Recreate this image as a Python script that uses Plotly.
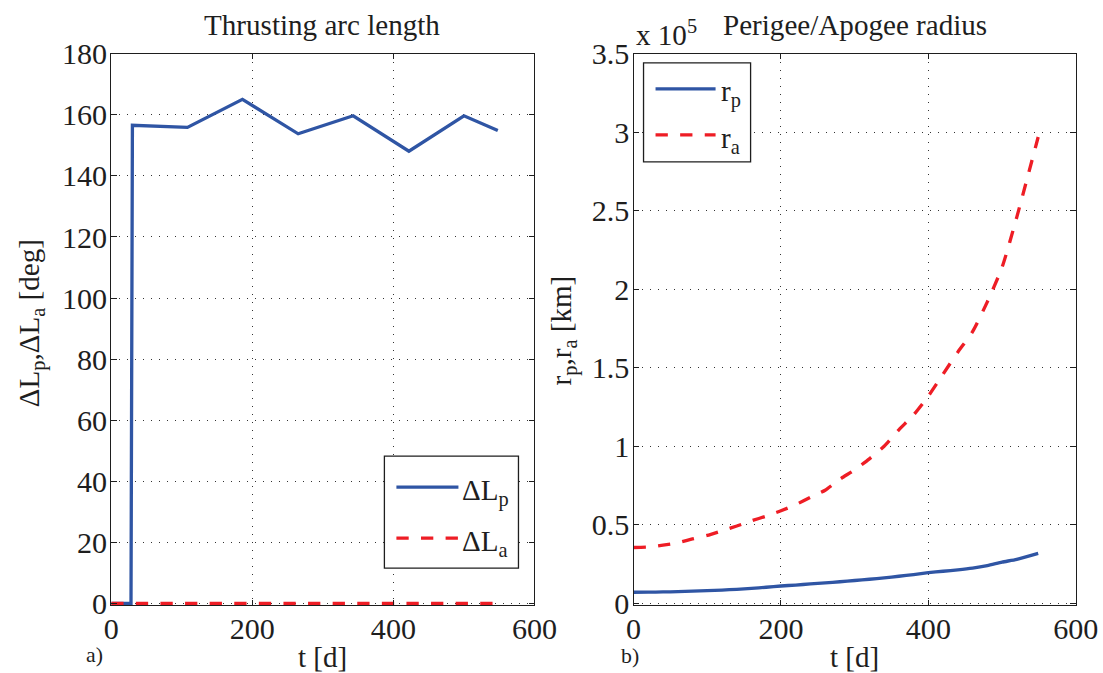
import plotly.graph_objects as go

# ---------------- data ----------------
t_arc = [0, 28, 30, 108, 186, 265, 343, 422, 500, 548]          # days
dL_p = [0, 0, 156.6, 155.9, 165.1, 153.8, 159.7, 148.1, 159.7, 154.9]  # deg
dL_a = [0, 0, 0, 0, 0, 0, 0, 0, 0, 0]                              # deg

t_rad = [0, 20, 40, 60, 80, 100, 120, 140, 160, 180, 200, 220, 240, 260, 280,
         300, 320, 340, 360, 380, 400, 420, 440, 460, 480, 500, 520, 549]  # days
r_p = [7000, 7050, 7200, 7400, 7700, 8000, 8400, 8900, 9500, 10200, 11000, 11600,
       12300, 13000, 13700, 14500, 15300, 16200, 17200, 18300, 19500, 20400, 21300,
       22400, 24000, 26200, 28000, 31800]                              # km
r_a = [35500, 35800, 37000, 38500, 41000, 43200, 46200, 49200, 52500, 55500, 58900,
       62800, 67500, 72000, 79000, 85000, 92000, 100000, 110500, 120000, 132000,
       146000, 160000, 173000, 192000, 214000, 246000, 297000]         # km

SCALE = 1e5
x_ticks = [0, 200, 400, 600]
yl_ticks = [0, 20, 40, 60, 80, 100, 120, 140, 160, 180]
yr_ticks = [0, 0.5, 1, 1.5, 2, 2.5, 3, 3.5]
yr_labels = ["0", "0.5", "1", "1.5", "2", "2.5", "3", "3.5"]

BLUE = "#2F55A4"
RED = "#EE1D25"
INK = "#1e1e1e"
FONT = "Times New Roman, Liberation Serif, serif"

# the photographed page appears scaled; compensate so the picture matches
AX, AY = 0.972, 0.953
OX, OY = 7, 17
W, H = 1128, 689
K = 0.962  # text scale compensation


def fxp(P):
    return P / AX - OX


def fyp(P):
    return P / AY - OY


def px(P):
    return fxp(P) / W


def py(P):
    return 1 - fyp(P) / H


def fs(s):
    return round(s / K, 1)


LW = 3.2 / K
DASH = "%.1fpx,%.1fpx" % (12 / AX, 12 / AX)

fig = go.Figure()
fig.add_trace(go.Scatter(x=t_arc, y=dL_p, mode="lines", name="ΔLp",
                         line=dict(color=BLUE, width=LW), xaxis="x", yaxis="y",
                         showlegend=False))
fig.add_trace(go.Scatter(x=t_arc, y=dL_a, mode="lines", name="ΔLa",
                         line=dict(color=RED, width=LW, dash=DASH),
                         xaxis="x", yaxis="y", showlegend=False))
fig.add_trace(go.Scatter(x=t_rad, y=[v / SCALE for v in r_p], mode="lines", name="rp",
                         line=dict(color=BLUE, width=LW, shape="spline", smoothing=0.6),
                         xaxis="x2", yaxis="y2", showlegend=False))
fig.add_trace(go.Scatter(x=t_rad, y=[v / SCALE for v in r_a], mode="lines", name="ra",
                         line=dict(color=RED, width=LW, dash=DASH,
                                   shape="spline", smoothing=0.6),
                         xaxis="x2", yaxis="y2", showlegend=False))


def axis(**kw):
    d = dict(showline=True, linecolor=INK, linewidth=1.25, mirror="ticks",
             ticks="inside", ticklen=5.5, tickcolor=INK, tickwidth=1,
             showgrid=True, gridcolor="#333333", gridwidth=1, griddash="1px,7px",
             zeroline=False, tickfont=dict(family=FONT, size=fs(29), color=INK))
    d.update(kw)
    return d


ydom = [py(605), py(54)]
fig.update_layout(
    width=W, height=H, margin=dict(l=0, r=0, t=0, b=0),
    paper_bgcolor="white", plot_bgcolor="white",
    font=dict(family=FONT, size=fs(27), color=INK),
    xaxis=axis(domain=[px(110), px(533)], range=[0, 600], tickvals=x_ticks,
               anchor="y", ticklabelstandoff=-3),
    yaxis=axis(domain=ydom, range=[-0.6, 180], tickvals=yl_ticks, anchor="x",
               ticklabelstandoff=-3),
    xaxis2=axis(domain=[px(632), px(1074)], range=[0, 600], tickvals=x_ticks,
                anchor="y2", ticklabelstandoff=-3),
    yaxis2=axis(domain=ydom, range=[-0.012, 3.5], tickvals=yr_ticks,
                ticktext=yr_labels, anchor="x2", ticklabelstandoff=-3),
)

ann = []


def text(x, y, s, size=27, xanchor="center", yanchor="middle", angle=0):
    ann.append(dict(x=px(x), y=py(y), xref="paper", yref="paper", text=s,
                    showarrow=False, xanchor=xanchor, yanchor=yanchor,
                    textangle=angle, font=dict(family=FONT, size=fs(size), color=INK)))


# titles
text(321, 25, "Thrusting arc length", size=28)
text(853, 25, "Perigee/Apogee radius", size=28)
# axis labels
text(321, 657, "t [d]", size=28)
text(853, 657, "t [d]", size=28)
text(31, 323, "ΔL<sub>p</sub>,ΔL<sub>a</sub> [deg]", size=28, angle=-90)
text(562, 330, "r<sub>p</sub>,r<sub>a</sub> [km]", size=28, angle=-90)
# panel tags
text(93, 655, "a)", size=21)
text(628, 656, "b)", size=21)
# exponent
text(632, 33, "x 10<sup>5</sup>", size=28, xanchor="left")

shapes = []


def rect(x0, x1, y0, y1):
    shapes.append(dict(type="rect", xref="paper", yref="paper", x0=px(x0), x1=px(x1),
                       y0=py(y1), y1=py(y0), line=dict(color=INK, width=1.3),
                       fillcolor="white", layer="above"))


def sample(x0, x1, y, color, dash=None):
    ln = dict(color=color, width=LW)
    if dash:
        ln["dash"] = dash
    shapes.append(dict(type="line", xref="paper", yref="paper", x0=px(x0), x1=px(x1),
                       y0=py(y), y1=py(y), line=ln, layer="above"))


# legend a)
rect(383, 517, 456, 568)
sample(395, 457, 487, BLUE)
sample(395, 457, 538, RED, DASH)
text(459, 492, "ΔL<sub>p</sub>", size=28, xanchor="left")
text(459, 543, "ΔL<sub>a</sub>", size=28, xanchor="left")
# legend b)
rect(642, 749, 63, 162)
sample(654, 714, 89, BLUE)
sample(654, 714, 135, RED, DASH)
text(717, 94, "r<sub>p</sub>", size=28, xanchor="left")
text(717, 140, "r<sub>a</sub>", size=28, xanchor="left")

fig.update_layout(annotations=ann, shapes=shapes)
fig.write_html("out.html")
